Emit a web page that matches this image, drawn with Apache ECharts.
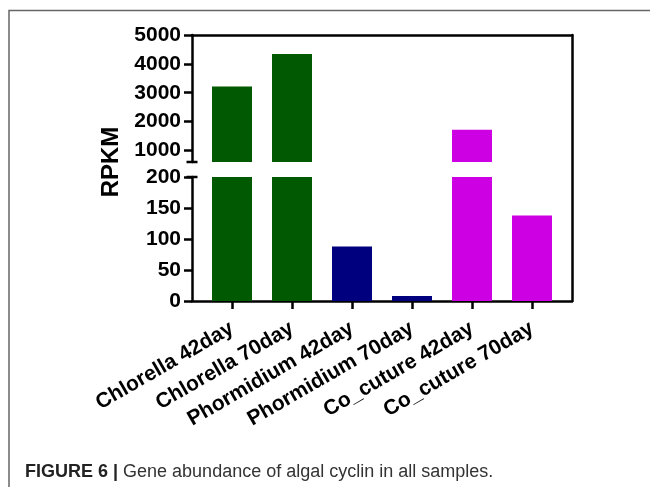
<!DOCTYPE html>
<html><head><meta charset="utf-8">
<script src="https://cdn.jsdelivr.net/npm/echarts@6/dist/echarts.min.js"></script>
<style>html,body{margin:0;padding:0;background:#fff}#c{width:651px;height:487px}</style>
</head><body><div id="c"></div>
<script>
const categories = ['Chlorella 42day','Chlorella 70day','Phormidium 42day','Phormidium 70day','Co_cuture 42day','Co_cuture 70day'];
const rpkm = [3220, 4340, 88, 8, 1720, 138];
const barColors = ['#015a01','#015a01','#00007e','#00007e','#cc00e3','#cc00e3'];
const upperTicks = [1000, 2000, 3000, 4000, 5000];
const upperRange = [600, 5000];
const lowerRange = [0, 200];
const lowerInterval = 50;
const yName = 'RPKM';
const captionBold = 'FIGURE 6 |';
const captionText = ' Gene abundance of algal cyclin in all samples.';

const FF = "'Liberation Sans', Arial, Helvetica, sans-serif";
const idx = categories.map((c, i) => i);
const xMin = -2/3, xMax = categories.length - 1 + 2/3;
const line = {show: true, onZero: false, lineStyle: {color: '#000', width: 2.5}};
const tick = {show: true, length: 8, lineStyle: {color: '#000', width: 2.5}};
const ylab = {show: true, margin: 11, color: '#000', fontFamily: FF, fontWeight: 'bold', fontSize: 21,
  formatter: v => String(v)};

const upperData = rpkm.map((v, i) => ({value: [i, v > upperRange[0] ? v : '-'], itemStyle: {color: barColors[i]}}));
const lowerData = rpkm.map((v, i) => ({value: [i, v], itemStyle: {color: barColors[i]}}));

const chart = echarts.init(document.getElementById('c'), null, {renderer: 'canvas'});
chart.setOption({
  animation: false,
  backgroundColor: '#fff',
  grid: [
    {left: 192, top: 35, width: 380, height: 127},
    {left: 192, top: 177, width: 380, height: 124},
    {left: 192, top: 35, width: 380, height: 266}
  ],
  xAxis: [
    {gridIndex: 0, type: 'value', min: xMin, max: xMax, show: false},
    {gridIndex: 1, type: 'value', min: xMin, max: xMax, position: 'bottom',
     axisLine: line,
     axisTick: Object.assign({}, tick, {customValues: idx}),
     axisLabel: {show: true, customValues: idx, rotate: 30, margin: 26, color: '#000',
       fontFamily: FF, fontWeight: 'bold', fontSize: 21,
       formatter: v => categories[Math.round(v)]},
     splitLine: {show: false}},
    {gridIndex: 2, type: 'value', min: 0, max: 1, position: 'top',
     axisLine: line, axisTick: {show: false}, axisLabel: {show: false}, splitLine: {show: false}}
  ],
  yAxis: [
    {gridIndex: 0, type: 'value', min: upperRange[0], max: upperRange[1],
     axisLine: Object.assign({}, line, {symbol: ['rect', 'none'], symbolSize: [11, 2.5]}),
     axisTick: Object.assign({}, tick, {customValues: upperTicks}),
     axisLabel: Object.assign({}, ylab, {customValues: upperTicks}),
     splitLine: {show: false}},
    {gridIndex: 1, type: 'value', min: lowerRange[0], max: lowerRange[1], interval: lowerInterval,
     axisLine: Object.assign({}, line, {symbol: ['none', 'rect'], symbolSize: [11, 2.5]}),
     axisTick: tick, axisLabel: ylab, splitLine: {show: false}},
    {gridIndex: 2, type: 'value', min: 0, max: 1, position: 'right',
     axisLine: line, axisTick: {show: false}, axisLabel: {show: false}, splitLine: {show: false}}
  ],
  series: [
    {type: 'bar', xAxisIndex: 0, yAxisIndex: 0, barWidth: 40, data: upperData, clip: true},
    {type: 'bar', xAxisIndex: 1, yAxisIndex: 1, barWidth: 40, data: lowerData, clip: true}
  ],
  graphic: [
    {type: 'polyline', shape: {points: [[9, 487], [9, 10.5], [650, 10.5]]},
     style: {stroke: '#666', lineWidth: 1.5, fill: null}},
    {type: 'text', x: 111, y: 162, rotation: Math.PI / 2,
     style: {text: yName, fill: '#000', font: 'bold 24px ' + FF, textAlign: 'center', textVerticalAlign: 'middle'}},
    {type: 'text', x: 25, y: 472,
     style: {text: '{b|' + captionBold + '}{r|' + captionText + '}', textVerticalAlign: 'middle',
       rich: {b: {fontFamily: FF, fontWeight: 'bold', fontSize: 18, fill: '#222'},
              r: {fontFamily: FF, fontSize: 18, fill: '#333'}}}}
  ]
});
</script></body></html>
